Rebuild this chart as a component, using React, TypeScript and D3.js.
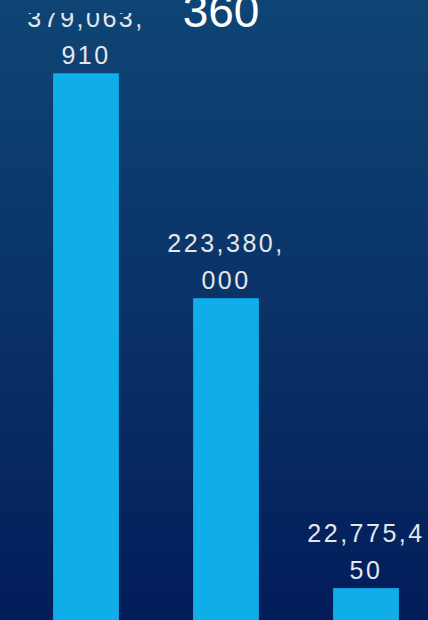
import { useEffect, useRef } from "react";
import * as d3 from "d3";

const categories = ["Prev", "A", "B", "C"];
const values = [980000, 379063910, 223380000, 22775450];
const titleText = "360";

const W = 428;
const H = 620;

// split a label into chunks of 8 chars, like the wrapped source labels
function wrapLabel(s: string) {
  const out: string[] = [];
  for (let i = 0; i < s.length; i += 8) out.push(s.slice(i, i + 8));
  return out;
}

export default function App() {
  const svgRef = useRef<SVGSVGElement>(null);

  useEffect(() => {
    const svg = d3.select(svgRef.current);
    svg.selectAll("*").remove();

    const defs = svg.append("defs");
    const grad = defs
      .append("linearGradient")
      .attr("id", "bg")
      .attr("x1", 0)
      .attr("y1", 0)
      .attr("x2", 0)
      .attr("y2", 1);
    grad.append("stop").attr("offset", "0%").attr("stop-color", "#0e4574");
    grad.append("stop").attr("offset", "50%").attr("stop-color", "#0a3268");
    grad.append("stop").attr("offset", "100%").attr("stop-color", "#021d5a");

    // plot area clip (labels above it get cut)
    defs
      .append("clipPath")
      .attr("id", "plot")
      .append("rect")
      .attr("x", -200)
      .attr("y", 13)
      .attr("width", W + 400)
      .attr("height", H);

    svg
      .append("rect")
      .attr("width", W)
      .attr("height", H)
      .attr("fill", "url(#bg)");

    const x = d3
      .scaleBand()
      .domain(categories)
      .range([-124, 436])
      .paddingInner(0.53)
      .paddingOuter(0.265);

    const y = d3.scaleLinear().domain([0, 400000000]).range([621, 43]);

    const data = categories.map((c, i) => ({ c, v: values[i] }));

    const plot = svg.append("g").attr("clip-path", "url(#plot)");

    plot
      .append("g")
      .selectAll("rect")
      .data(data)
      .join("rect")
      .attr("x", (d) => x(d.c)!)
      .attr("y", (d) => y(d.v))
      .attr("width", x.bandwidth())
      .attr("height", (d) => y(0) - y(d.v))
      .attr("fill", "#0faee8");

    const fmt = d3.format(",");
    const labels = plot
      .append("g")
      .selectAll("text")
      .data(data)
      .join("text")
      .attr("x", (d) => x(d.c)! + x.bandwidth() / 2)
      .attr("text-anchor", "middle")
      .attr("fill", "#e4e6ea")
      .style("font-family", "'Liberation Sans', Arial, sans-serif")
      .style("font-size", "25px")
      .style("letter-spacing", "2.5px");

    labels.each(function (d) {
      const lines = wrapLabel(fmt(d.v));
      const t = d3.select(this);
      lines.forEach((ln, i) => {
        t.append("tspan")
          .attr("x", x(d.c)! + x.bandwidth() / 2)
          .attr("y", y(d.v) - 9 - (lines.length - 1 - i) * 37)
          .text(ln);
      });
    });

    svg
      .append("text")
      .attr("x", 221)
      .attr("y", 27)
      .attr("text-anchor", "middle")
      .attr("fill", "#ffffff")
      .style("font-family", "'Liberation Sans', Arial, sans-serif")
      .style("font-size", "46px")
      .text(titleText);
  }, []);

  return (
    <div style={{ position: "absolute", left: 0, top: 0 }}>
      <svg ref={svgRef} width={W} height={H} style={{ display: "block" }} />
    </div>
  );
}
